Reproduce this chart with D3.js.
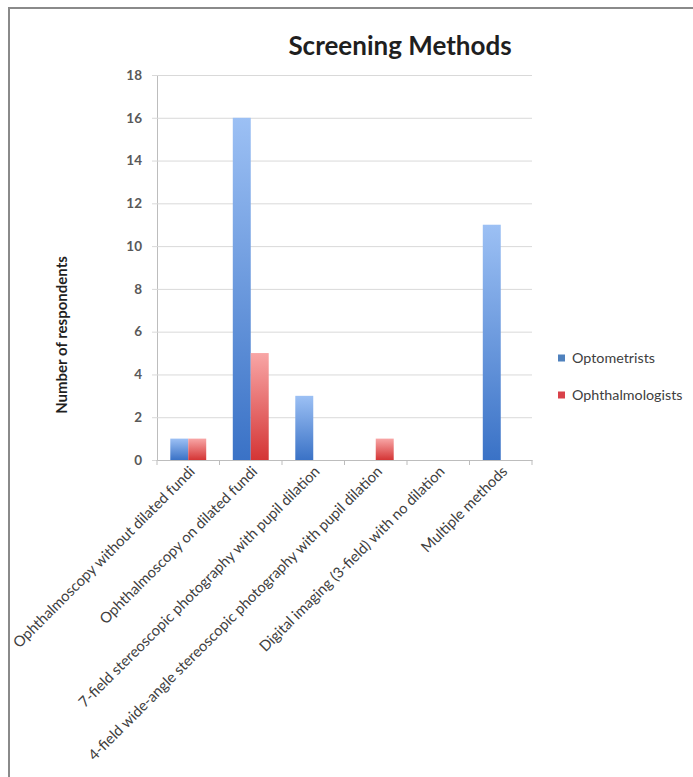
<!DOCTYPE html>
<html>
<head>
<meta charset="utf-8">
<script src="https://cdn.jsdelivr.net/npm/d3@7"></script>
<style>
  html, body { margin: 0; padding: 0; background: #fff; }
  svg { display: block; font-family: Lato, "Open Sans", sans-serif; }
</style>
</head>
<body>
<svg id="chart" width="693" height="777"></svg>
<script>
const categories = [
  "Ophthalmoscopy without dilated fundi",
  "Ophthalmoscopy on dilated fundi",
  "7-field stereoscopic photography with pupil dilation",
  "4-field wide-angle stereoscopic photography with pupil dilation",
  "Digital imaging (3-field) with no dilation",
  "Multiple methods"
];
const seriesNames = ["Optometrists", "Ophthalmologists"];
const optometrists = [1, 16, 3, 0, 0, 11];
const ophthalmologists = [1, 5, 0, 1, 0, 0];
const yTicks = [0, 2, 4, 6, 8, 10, 12, 14, 16, 18];
const titleText = "Screening Methods";
const yTitle = "Number of respondents";

(function () {
const seriesValues = [optometrists, ophthalmologists];
const svg = d3.select("#chart");
const W = 693, H = 777;

// frame
svg.append("rect").attr("x", 9).attr("y", 8).attr("width", W + 10).attr("height", H + 10)
  .attr("fill", "#fff").attr("stroke", "#8a8a8a").attr("stroke-width", 2);

const pLeft = 157, pRight = 532, pTop = 75, pBottom = 460;
const x0 = d3.scaleBand().domain(categories).range([pLeft, pRight]);
const x1 = d3.scaleBand().domain(seriesNames).range([0, x0.bandwidth()]).paddingOuter(0.74);
const y = d3.scaleLinear().domain([0, 18]).range([pBottom, pTop]);

const defs = svg.append("defs");
const grads = [
  { id: "gBlue", top: "#9cc0f4", bottom: "#3a72c6" },
  { id: "gRed", top: "#f8a6a6", bottom: "#d43535" }
];
grads.forEach(g => {
  const lg = defs.append("linearGradient").attr("id", g.id)
    .attr("x1", 0).attr("y1", 0).attr("x2", 0).attr("y2", 1);
  lg.append("stop").attr("offset", "0%").attr("stop-color", g.top);
  lg.append("stop").attr("offset", "100%").attr("stop-color", g.bottom);
});
const fills = { "Optometrists": "url(#gBlue)", "Ophthalmologists": "url(#gRed)" };
const legendFills = { "Optometrists": "#4f81bd", "Ophthalmologists": "#d9424a" };

// gridlines
const yAxis = d3.axisLeft(y).tickValues(yTicks).tickSize(-(pRight - pLeft)).tickPadding(15).tickFormat(d3.format("d"));
const gy = svg.append("g").attr("transform", `translate(${pLeft},0)`).call(yAxis);
gy.select(".domain").attr("stroke", "#bdbdbd");
gy.selectAll(".tick line").attr("stroke", "#d9d9d9").attr("x1", -5);
gy.selectAll(".tick text").attr("fill", "#595959").attr("font-size", 13.5).attr("font-weight", "bold")
  .attr("font-family", "Lato, sans-serif");

// bars
const groups = svg.append("g").selectAll("g").data(categories).join("g")
  .attr("transform", d => `translate(${x0(d)},0)`);
groups.selectAll("rect")
  .data((c, i) => seriesNames.map((s, k) => ({ s, v: seriesValues[k][i] })).filter(d => d.v > 0))
  .join("rect")
  .attr("x", d => x1(d.s))
  .attr("width", x1.bandwidth())
  .attr("y", d => y(d.v))
  .attr("height", d => y(0) - y(d.v))
  .attr("fill", d => fills[d.s]);

// x axis
const xAxis = d3.axisBottom(x0).tickSize(0).tickFormat("");
const gx = svg.append("g").attr("transform", `translate(0,${pBottom})`).call(xAxis);
gx.select(".domain").attr("stroke", "#bdbdbd");
const bounds = [pLeft].concat(categories.map(c => x0(c) + x0.bandwidth()));
gx.selectAll("line.sep").data(bounds).join("line").attr("class", "sep")
  .attr("x1", d => d).attr("x2", d => d).attr("y1", 0).attr("y2", 5).attr("stroke", "#bdbdbd");

// x labels
svg.append("g").selectAll("text").data(categories).join("text")
  .attr("transform", d => `translate(${x0(d) + x0.bandwidth() / 2},465) rotate(-45)`)
  .attr("dy", "0.71em")
  .attr("text-anchor", "end")
  .attr("font-size", 14.8)
  .attr("fill", "#404040")
  .text(d => d);

// title
svg.append("text").attr("x", 400).attr("y", 55).attr("text-anchor", "middle")
  .attr("font-size", 26).attr("font-weight", "bold").attr("fill", "#1f1f1f").text(titleText);

// y title
svg.append("text").attr("transform", `translate(67,335) rotate(-90)`)
  .attr("text-anchor", "middle").attr("font-size", 15).attr("font-weight", "bold")
  .attr("fill", "#1f1f1f").text(yTitle);

// legend
const lg = svg.append("g").selectAll("g").data(seriesNames).join("g")
  .attr("transform", (d, i) => `translate(558,${358 + i * 37})`);
lg.append("rect").attr("x", 0).attr("y", -3.5).attr("width", 7).attr("height", 7)
  .attr("fill", d => legendFills[d]);
lg.append("text").attr("x", 14).attr("dy", "0.35em").attr("font-size", 14.3)
  .attr("fill", "#404040").text(d => d);
})();
</script>
</body>
</html>
